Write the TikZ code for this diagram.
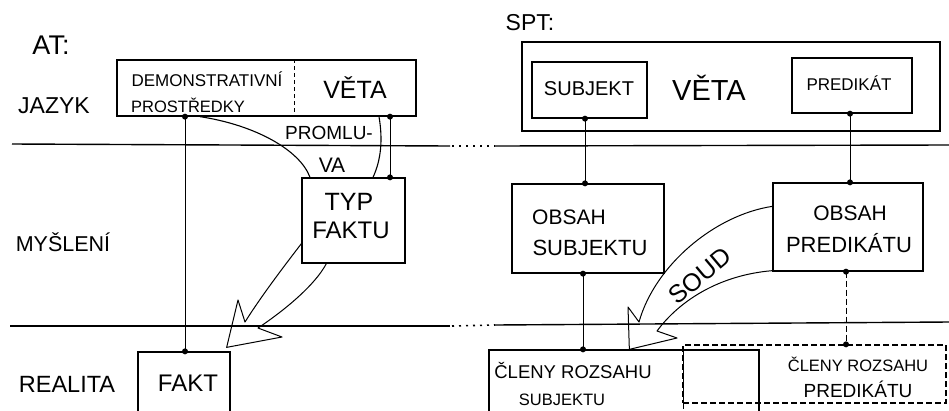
\documentclass[tikz,border=0pt]{standalone}
\usepackage{fontspec}
\setmainfont{Liberation Sans}
\usetikzlibrary{calc}
\newcommand{\tam}[1]{\fontsize{#1}{#1}\selectfont}
\tikzset{
  caja/.style={draw, line width=1.3pt, inner sep=0pt},
  punto/.style={circle, fill=black, inner sep=0pt, minimum size=6pt},
  enlace/.style={line width=0.8pt},
  flecha/.style={line width=1pt, line join=round},
  linea/.style={line width=1.4pt},
  puntos/.style={line width=1.6pt, dash pattern=on 2pt off 5pt},
  rayas/.style={dash pattern=on 6pt off 3pt},
  rotulo/.style={inner sep=0pt},
}
\begin{document}
\begin{tikzpicture}[x=1pt,y=-1pt]
\useasboundingbox (0,0) rectangle (949,410);
\clip (0,0) rectangle (949,410);

% Lineas de separacion
\draw [linea] (12,144) -- (450,146);
\draw [puntos] (452,146) -- (495,146);
\draw [linea] (495,146) -- (949,145);
\draw [linea] (10,326) -- (450,326);
\draw [puntos] (452,326) -- (495,325);
\draw [linea] (495,325) -- (949,322);

% Niveles
\node [rotulo, font=\tam{27}] (t-at) at (51,45) {AT:};
\node [rotulo, font=\tam{23}] (t-spt) at (530,23) {SPT:};
\node [rotulo, font=\tam{23}] (t-jazyk) at (54,106) {JAZYK};
\node [rotulo, font=\tam{21.5}] (t-mysleni) at (63,242) {MYŠLENÍ};
\node [rotulo, font=\tam{23.5}] (t-realita) at (67,384) {REALITA};

% AT: cajas
\node [caja, minimum width=299, minimum height=56] (jaz) at (266.5,88) {};
\coordinate (dv1) at (294,0);
\draw [line width=1pt, dash pattern=on 4pt off 3pt] (jaz.north -| dv1) -- (jaz.south -| dv1);
\node [rotulo, font=\tam{17}] (t-dem) at (207,79) {DEMONSTRATIVNÍ};
\node [rotulo, font=\tam{16.5}] (t-pros) at (188,105) {PROSTŘEDKY};
\node [rotulo, font=\tam{25}] (t-veta1) at (355,88) {VĚTA};

\node [caja, minimum width=103, minimum height=85] (typ) at (353.5,220.5) {};
\node [rotulo, font=\tam{25}] (t-typ) at (349,202) {TYP};
\node [rotulo, font=\tam{24}] (t-faktu) at (351,230) {FAKTU};

\node [caja, minimum width=92, minimum height=62] (fakt) at (184,383) {};
\node [rotulo, font=\tam{24}] (t-fakt) at (188,383) {FAKT};

% Promluva
\coordinate (c1) at (200,0);
\coordinate (c2) at (310,0);
\coordinate (c3) at (379,0);
\coordinate (c4) at (373,0);
\draw [enlace, line width=1.1pt] (jaz.south -| c1) .. controls (255,125) and (300,150) .. (typ.north -| c2);
\draw [enlace, line width=1.1pt] (jaz.south -| c3) .. controls (383,140) and (381,160) .. (typ.north -| c4);
\node [rotulo, font=\tam{19}] (t-prom) at (329,133) {PROMLU-};
\node [rotulo, font=\tam{21}] (t-va) at (332,165) {VA};

% Enlaces AT
\coordinate (x1) at (185,0);
\coordinate (x2) at (390,0);
\draw [enlace] (jaz.south -| x1) node [punto] (d1) {} -- (fakt.north -| x1) node [punto] (d2) {};
\draw [enlace] (jaz.south -| x2) node [punto] (d3) {} -- (typ.north -| x2) node [punto] (d4) {};

% Flecha hueca hacia el fakt
\draw [flecha] ($(typ.south west)+(0,-20)$) .. controls (285,265) and (262,295) .. (245,322)
  -- (238,300) -- ($(fakt.north east)+(-4,-4)$) -- (282,337) -- (258,328)
  .. controls (285,310) and (315,285) .. ($(typ.south west)+(25,0)$);

% SPT: cajas
\node [caja, minimum width=418, minimum height=89] (veta) at (731,86.5) {};
\node [caja, minimum width=115, minimum height=56] (subj) at (589.5,90) {};
\node [caja, minimum width=120, minimum height=55] (pred) at (852,85.5) {};
\node [rotulo, font=\tam{20}] (t-subj) at (589,89) {SUBJEKT};
\node [rotulo, font=\tam{29}] (t-veta2) at (709,88) {VĚTA};
\node [rotulo, font=\tam{17}] (t-pred) at (849,83) {PREDIKÁT};

\node [caja, minimum width=152, minimum height=89] (osubj) at (588,228.5) {};
\node [rotulo, font=\tam{21}] (t-os1) at (569,217) {OBSAH};
\node [rotulo, font=\tam{22}] (t-os2) at (590,248) {SUBJEKTU};
\node [caja, minimum width=150, minimum height=88] (opred) at (848,227) {};
\node [rotulo, font=\tam{21}] (t-op1) at (850,213) {OBSAH};
\node [rotulo, font=\tam{22}] (t-op2) at (849,243) {PREDIKÁTU};

\node [caja, rayas, minimum width=263, minimum height=58] (clpred) at (814.5,374) {};
\node [caja, minimum width=270, minimum height=64] (clsubj) at (624,382) {};
\coordinate (dv2) at (683,0);
\draw [line width=1pt, rayas] (clsubj.north -| dv2) -- (clsubj.south -| dv2);
\node [rotulo, font=\tam{18.5}] (t-cs1) at (573,370) {ČLENY ROZSAHU};
\node [rotulo, font=\tam{16.5}] (t-cs2) at (562,400) {SUBJEKTU};
\node [rotulo, font=\tam{16.5}] (t-cp1) at (858,364) {ČLENY ROZSAHU};
\node [rotulo, font=\tam{19}] (t-cp2) at (858,389) {PREDIKÁTU};

% Enlaces SPT
\coordinate (x3) at (585,0);
\coordinate (x4) at (850,0);
\coordinate (x5) at (583,0);
\coordinate (x6) at (846,0);
\draw [enlace] (subj.south -| x3) node [punto] (d5) {} -- (osubj.north -| x3) node [punto] (d6) {};
\draw [enlace] (pred.south -| x4) node [punto] (d7) {} -- (opred.north -| x4) node [punto] (d8) {};
\draw [enlace] (osubj.south -| x5) node [punto] (d9) {} -- (clsubj.north -| x5) node [punto] (d10) {};
\draw [enlace, rayas] (opred.south -| x6) node [punto] (d11) {} -- (clpred.north -| x6) node [punto] (d12) {};

% Soud
\draw [flecha] ($(opred.north west)+(0,24)$) .. controls (715,215) and (655,265) .. (639,322)
  -- (628,307) -- ($(clsubj.north west)+(141,0)$) -- (677,338) -- (657,331)
  .. controls (680,300) and (720,275) .. ($(opred.south west)+(0,-1)$);
\node [rotulo, font=\tam{25}, rotate=40] (t-soud) at (700,276) {SOUD};
\end{tikzpicture}
\end{document}
